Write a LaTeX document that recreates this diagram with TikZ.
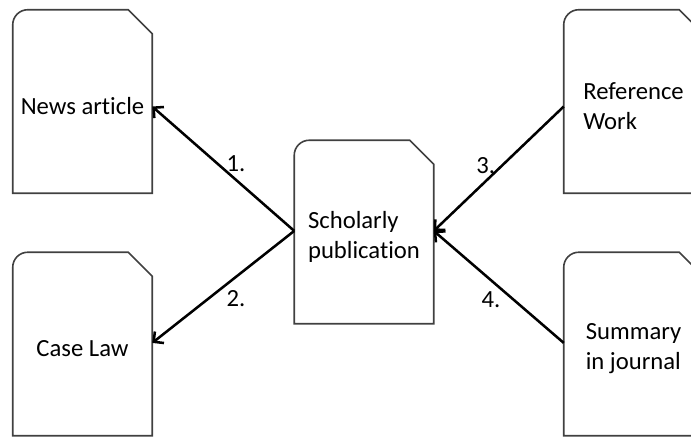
\documentclass[tikz,border=0pt]{standalone}
\usepackage{fontspec}
\setmainfont{Carlito}[Ligatures=NoCommon]
\usetikzlibrary{arrows.meta}

% document boxes: rounded top left, cut top right
\tikzset{
  doc/.style={minimum width=104.25pt, minimum height=137.25pt, inner sep=0pt,
    align=left, font=\fontsize{18.5}{22.5}\selectfont, yshift=-3.75pt},
  docline/.style={line width=1.2pt, draw=black!75},
  link/.style={line width=1.9pt, -{Straight Barb[length=5.5pt,width=11pt]}},
  num/.style={font=\fontsize{18.5}{22.5}\selectfont, inner sep=2pt}
}

\begin{document}
\begin{tikzpicture}[x=0.75pt, y=0.75pt]

    \useasboundingbox (0,0) rectangle (691,-437);
    \clip (0,0) rectangle (691,-437);

    % the five documents (text sits a little below the middle)
    \node[doc] (news)      at (82.5,-101.5) {News article};
    \node[doc] (caselaw)   at (82.5,-344)   {Case Law};
    \node[doc] (scholarly) at (364,-232)    {Scholarly\\publication};
    \node[doc] (reference) at (633.5,-101.5) {Reference\\Work};
    \node[doc] (summary)   at (633.5,-344)  {Summary\\in journal};

    % outlines, moved back up by the node shift
    \foreach \n in {news,caselaw,scholarly,reference,summary}
        \draw[docline] ([yshift=3.75pt]\n.south west) -- ([yshift=-7.5pt]\n.north west)
            arc[start angle=180, end angle=90, radius=11.25pt]
            -- ([xshift=-18pt,yshift=3.75pt]\n.north east)
            -- ([yshift=-14.25pt]\n.north east)
            -- ([yshift=3.75pt]\n.south east) -- cycle;

    % citations
    \draw[link] (scholarly.175) -- node[num, pos=0.41, above=3pt] {1.} (news.east);
    \draw[link] (scholarly.175) -- node[num, pos=0.41, below=7pt] {2.} (caselaw.5);
    \draw[link] (reference.west) -- node[num, pos=0.6, above=3pt] {3.} (scholarly.5);
    \draw[link] (summary.175) -- node[num, pos=0.56, below=6pt] {4.} (scholarly.5);

\end{tikzpicture}
\end{document}
